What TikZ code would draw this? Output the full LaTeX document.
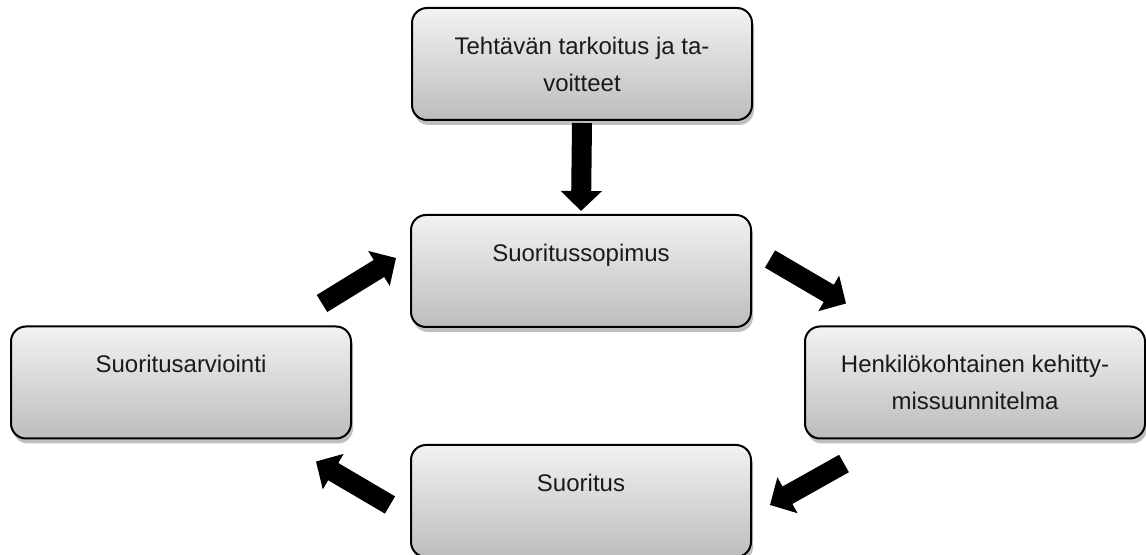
\documentclass[tikz,border=0pt]{standalone}
\usepackage{fontspec}
\setmainfont{Liberation Sans}
\usepackage{tikz}
\usetikzlibrary{arrows.meta,shadows,calc}
\definecolor{boxtop}{HTML}{F2F2F2}
\definecolor{boxbottom}{HTML}{BDBDBD}
\definecolor{boxtext}{HTML}{1A1A1A}

\begin{document}
\begin{tikzpicture}[
        x=0.5pt, y=-0.5pt,
        stagebox/.style={draw=black, line width=1pt, rounded corners=7.5pt,
            top color=boxtop, bottom color=boxbottom,
            minimum width=170pt, minimum height=56pt, inner sep=2pt,
            align=center, text=boxtext,
            font=\fontsize{12}{18.5}\selectfont,
            drop shadow={shadow xshift=1pt, shadow yshift=-2.5pt, opacity=0.25, fill=black}},
        blockarrow/.style={line width=10pt, -{Triangle[length=10pt, width=20pt]}},
    ]
    \useasboundingbox (0,0) rectangle (1146,555);

    % boxes
    \node[stagebox] (goal) at (582, 64) {Tehtävän tarkoitus ja ta-\\voitteet};
    \node[stagebox] (deal) at (581, 271) {Suoritussopimus\\~};
    \node[stagebox] (plan) at (975, 382.5) {Henkilökohtainen kehitty-\\missuunnitelma};
    \node[stagebox] (work) at (581, 501) {Suoritus\\~};
    \node[stagebox] (review) at (181, 382.5) {Suoritusarviointi\\~};

    % arrows
    \draw[blockarrow] ([yshift=-1pt]goal.south) -- ([yshift=1.5pt]deal.north);
    \draw[blockarrow] ([shift={(18,-12)}]deal.east) -- ([shift={(42,-22)}]plan.north west);
    \draw[blockarrow] ([shift={(40,24)}]plan.south west) -- ([shift={(18,4)}]work.east);
    \draw[blockarrow] ([shift={(-20,4)}]work.west) -- ([shift={(-36,22)}]review.south east);
    \draw[blockarrow] ([shift={(-30,-22)}]review.north east) -- ([shift={(-14,-13)}]deal.west);

\end{tikzpicture}
\end{document}
